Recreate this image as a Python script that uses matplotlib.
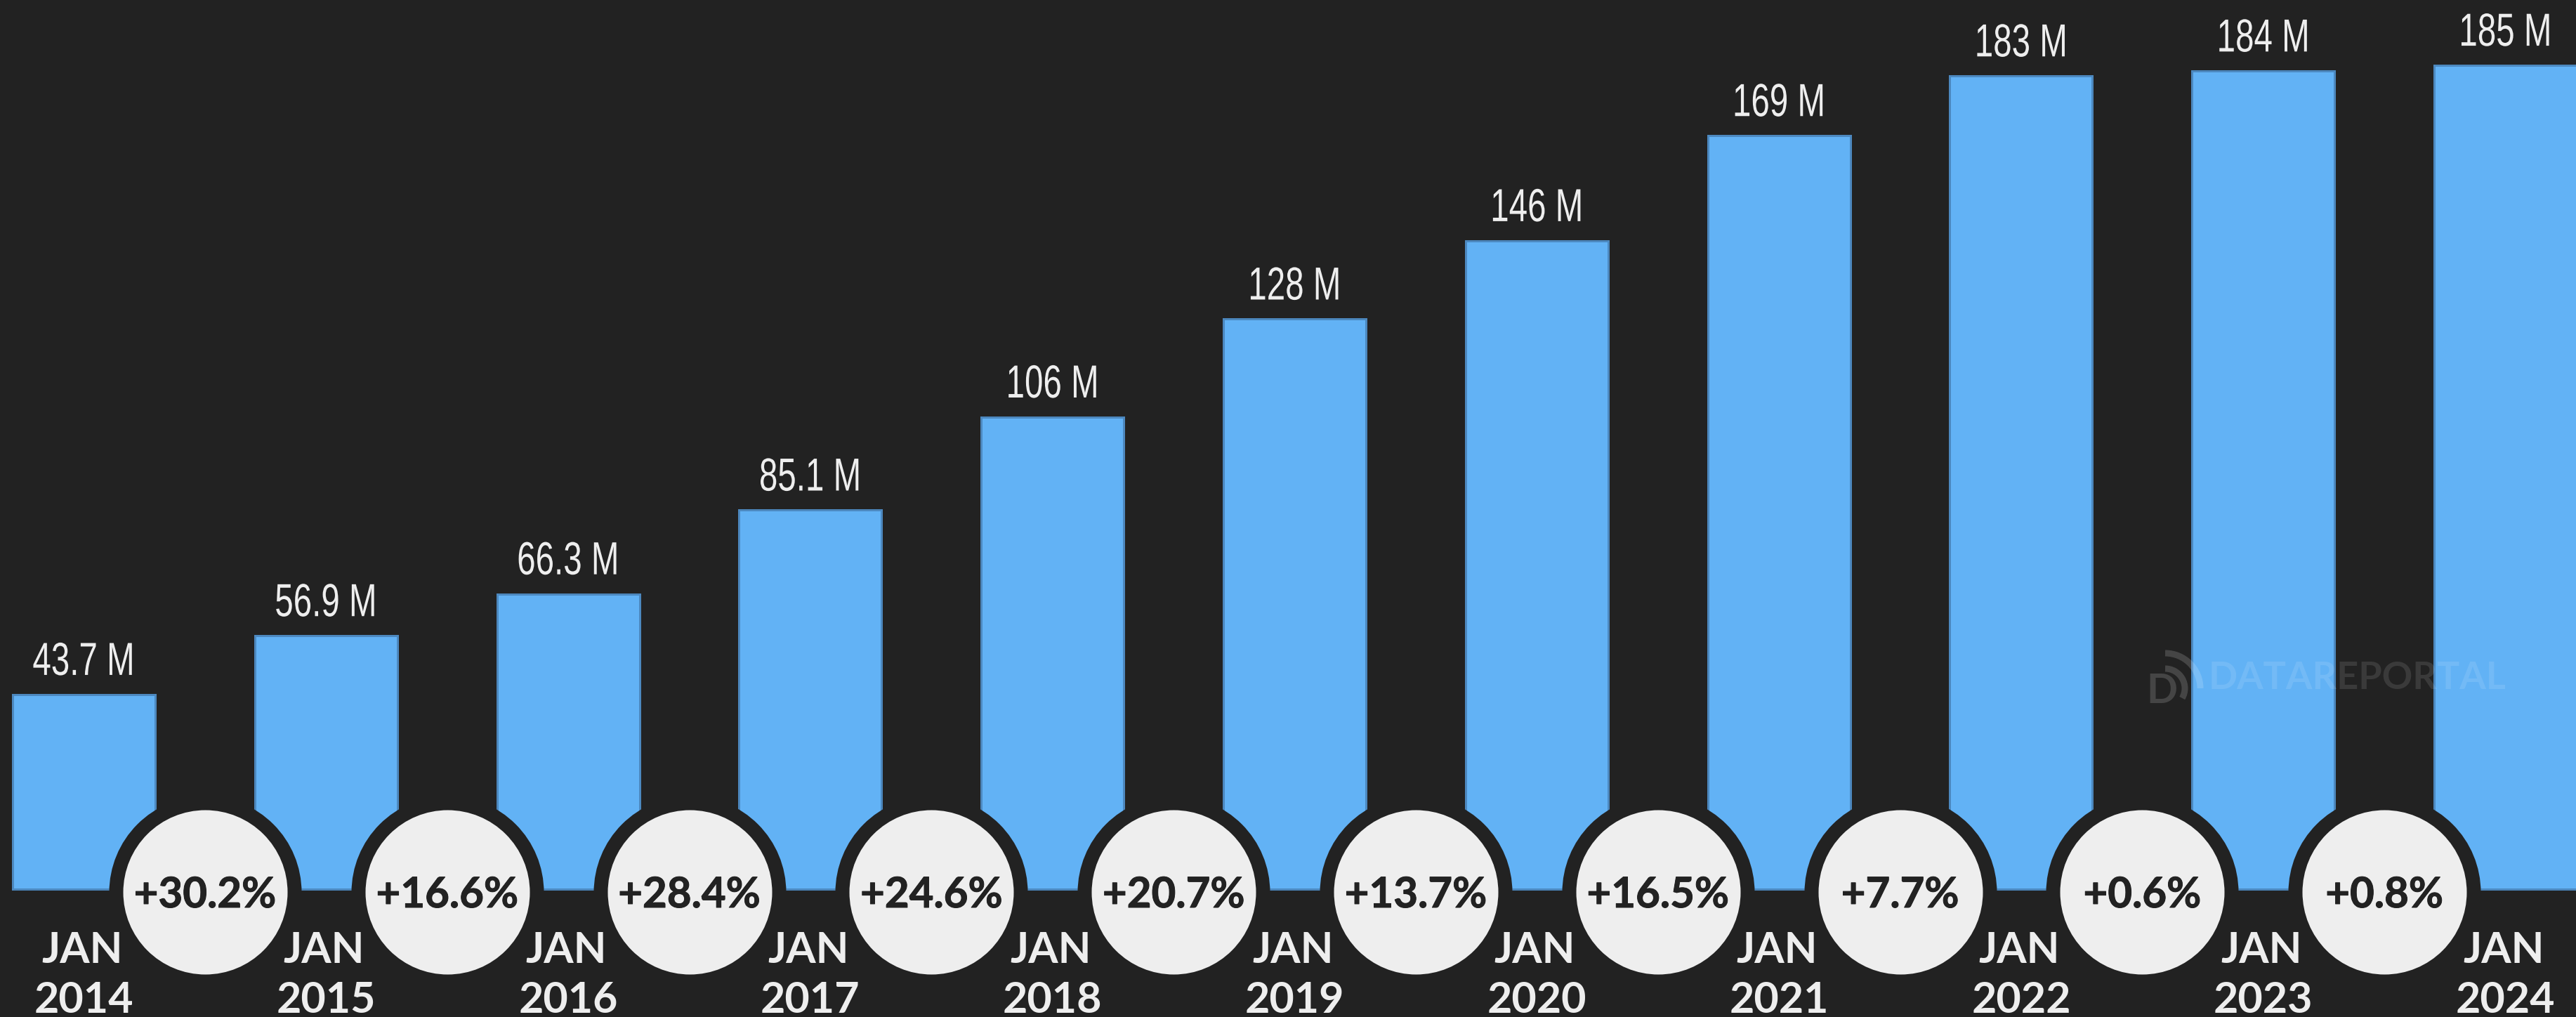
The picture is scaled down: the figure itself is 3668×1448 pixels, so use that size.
#!/usr/bin/env python3
# -*- coding: utf-8 -*-
"""Bar chart of users per year with growth bubbles between the bars."""

import matplotlib
matplotlib.use("Agg")
import matplotlib.patheffects as pe
import matplotlib.pyplot as plt
from matplotlib.patches import Arc
from matplotlib.transforms import Affine2D, IdentityTransform

years = ["2014", "2015", "2016", "2017", "2018", "2019", "2020", "2021", "2022", "2023", "2024"]
users_m = [43.7, 56.9, 66.3, 85.1, 106, 128, 145.6, 169.2, 182.6, 183.7, 185.0]
value_labels = ["43.7 M", "56.9 M", "66.3 M", "85.1 M", "106 M", "128 M",
                "146 M", "169 M", "183 M", "184 M", "185 M"]
growth_labels = ["+30.2%", "+16.6%", "+28.4%", "+24.6%", "+20.7%",
                 "+13.7%", "+16.5%", "+7.7%", "+0.6%", "+0.8%"]

BG = "#222222"
BAR = "#62B2F5"
BAR_EDGE = "#4C88BF"
LIGHT = "#EEEEEE"

W, H = 3668, 1448
DPI = 100
STEP_PX = 344.8     # distance between bars
M_PX = 6.34         # pixels per million
BASE_PX = 1266      # baseline, from the top
FIRST_PX = 119.5    # centre of first bar

NARROW = ["Liberation Sans", "DejaVu Sans"]
BOLD = ["Lato", "DejaVu Sans"]


class Squeeze(pe.AbstractPathEffect):
    """No condensed font is installed, so narrow the glyphs around their centre"""

    def __init__(self, factor):
        super().__init__()
        self.factor = factor

    def draw_path(self, renderer, gc, tpath, affine, rgbFace=None):
        cx = tpath.get_extents().x0 + tpath.get_extents().width / 2
        narrow = Affine2D().translate(-cx, 0).scale(self.factor, 1).translate(cx, 0)
        renderer.draw_path(gc, tpath, narrow + affine, rgbFace)


def y_at(px):
    """data y for a pixel row counted from the top"""
    return (BASE_PX - px) / M_PX


def pt(px):
    return px * 72 / DPI


fig = plt.figure(figsize=(W / DPI, H / DPI), dpi=DPI, facecolor=BG)
ax = fig.add_axes([0, 0, 1, 1], facecolor=BG)
ax.set_xlim(-FIRST_PX / STEP_PX, (W - FIRST_PX) / STEP_PX)
ax.set_ylim(y_at(H), y_at(0))
ax.axis("off")

xs = list(range(len(years)))
ax.bar(xs, users_m, width=203 / STEP_PX, color=BAR, edgecolor=BAR_EDGE,
       linewidth=pt(3), zorder=2)

for x, v, label in zip(xs, users_m, value_labels):
    ax.annotate(label, (x, v), xytext=(0, pt(28)), textcoords="offset points",
                ha="center", va="baseline", color=LIGHT, fontsize=pt(66),
                family=NARROW, zorder=5, path_effects=[Squeeze(0.72)])

for x, year in zip(xs, years):
    ax.text(x - 0.008, y_at(1371), "JAN", ha="center", va="baseline", color=LIGHT,
            fontsize=pt(61), family=BOLD, fontweight="bold", zorder=5)
    ax.text(x, y_at(1442), year, ha="center", va="baseline", color=LIGHT,
            fontsize=pt(61), family=BOLD, fontweight="bold", zorder=5)

# growth bubbles with a dark ring that cuts into the bars
mid_xs = [x + 0.5 for x in xs[:-1]]
bubble_y = [y_at(1270)] * len(mid_xs)
ax.scatter(mid_xs, bubble_y, s=pt(274) ** 2, color=BG, linewidths=0, zorder=3)
ax.scatter(mid_xs, bubble_y, s=pt(234) ** 2, color=LIGHT, linewidths=0, zorder=4)
for x, label in zip(mid_xs, growth_labels):
    ax.text(x, y_at(1292), label, ha="center", va="baseline", color=BG,
            fontsize=pt(60), family=BOLD, fontweight="bold", zorder=5,
            path_effects=[pe.withStroke(linewidth=pt(1), foreground=BG)])

# watermark
ax.text(3145 / W, 1 - 981 / H, "DATAREPORTAL", transform=ax.transAxes, ha="left",
        va="baseline", color="white", alpha=0.11, fontsize=pt(54), family=BOLD,
        fontweight="bold", zorder=6)
ax.text(3056 / W, 1 - 1001 / H, "D", transform=ax.transAxes, ha="left", va="baseline",
        color="white", alpha=0.16, fontsize=pt(58), family=BOLD, fontweight="bold", zorder=6)
for r, start in ((56, -30), (100, 0)):
    ax.add_patch(Arc((3083, H - 980), r, r, theta1=start, theta2=90, color="white", alpha=0.16,
                     linewidth=pt(9), transform=IdentityTransform(), zorder=6))

fig.savefig("out.png", dpi=DPI, facecolor=BG)
plt.close(fig)
